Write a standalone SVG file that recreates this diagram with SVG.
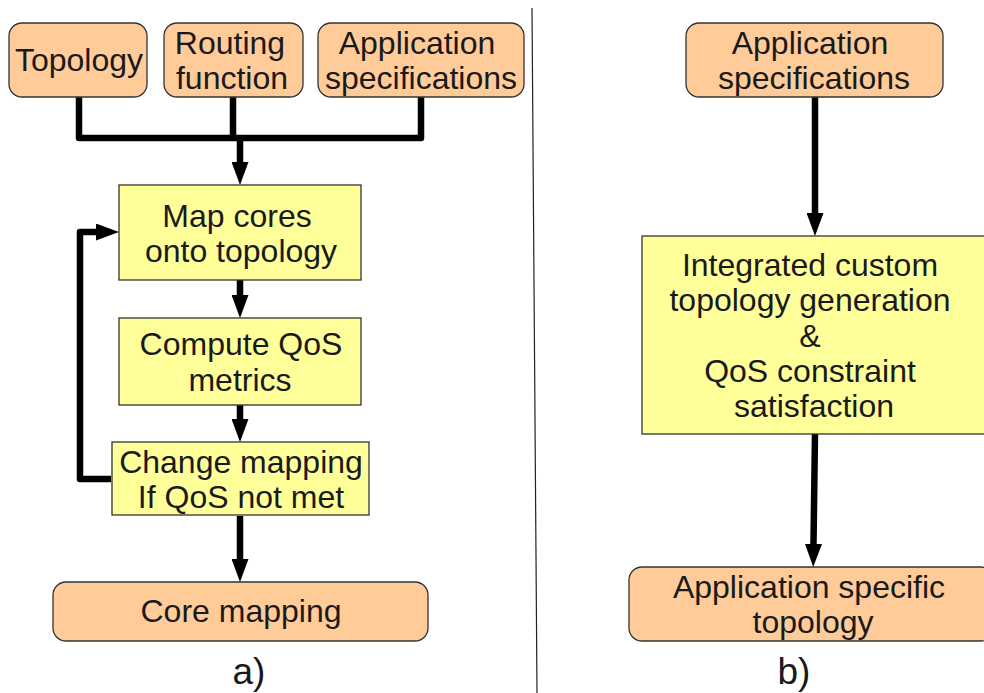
<svg xmlns="http://www.w3.org/2000/svg" width="984" height="693" viewBox="0 0 984 693">
<defs>
<style>
.io{fill:#ffcc99;stroke:#333333;stroke-width:1.3}
.pr{fill:#ffff99;stroke:#333333;stroke-width:1.3}
.t{font-family:"Liberation Sans",Arial,sans-serif;font-size:32px;fill:#1a1a1a;text-anchor:middle}
.lab{font-family:"Liberation Sans",Arial,sans-serif;font-size:37px;fill:#1a1a1a;text-anchor:middle}
.c{fill:none;stroke:#000000;stroke-width:6.5;stroke-linejoin:round}
.ca{fill:none;stroke:#000000;stroke-width:6.5;stroke-linejoin:round;marker-end:url(#ah)}
</style>
<marker id="ah" markerUnits="userSpaceOnUse" markerWidth="24" markerHeight="17" refX="0" refY="8.5" orient="auto">
<path d="M0,0 L23,8.5 L0,17 Z" fill="#000000"/>
</marker>
</defs>
<rect width="984" height="693" fill="#ffffff"/>
<line x1="532" y1="8" x2="537" y2="693" stroke="#222222" stroke-width="1.2"/>
<g id="connectors">
<path class="c" d="M79,97 V138 H421 V97"/>
<path class="c" d="M233,97 V138"/>
<path class="ca" d="M240,138 V162"/>
<path class="ca" d="M240,280 V295"/>
<path class="ca" d="M240,405 V419"/>
<path class="ca" d="M240,516 V559"/>
<path class="ca" d="M111,479 H80 V232 H96"/>
<path class="ca" d="M815,97 V213"/>
<path class="ca" d="M815,434 L813.5,544"/>
</g>
<g id="topology">
<rect class="io" x="9" y="23" width="138" height="74" rx="13"/>
<text class="t" x="79" y="71">Topology</text>
</g>
<g id="routing">
<rect class="io" x="164" y="23" width="139" height="74" rx="13"/>
<text class="t" x="230" y="54">Routing</text>
<text class="t" x="232" y="89">function</text>
</g>
<g id="appspec-a">
<rect class="io" x="318" y="23" width="206" height="74" rx="13"/>
<text class="t" x="417" y="54">Application</text>
<text class="t" x="421" y="89">specifications</text>
</g>
<g id="map-cores">
<rect class="pr" x="119" y="185" width="242" height="95"/>
<text class="t" x="237" y="227">Map cores</text>
<text class="t" x="241" y="262">onto topology</text>
</g>
<g id="compute-qos">
<rect class="pr" x="119" y="318" width="242" height="87"/>
<text class="t" x="241" y="355">Compute QoS</text>
<text class="t" x="240" y="391">metrics</text>
</g>
<g id="change-mapping">
<rect class="pr" x="112" y="442" width="257" height="73"/>
<text class="t" x="241" y="473">Change mapping</text>
<text class="t" x="241" y="508">If QoS not met</text>
</g>
<g id="core-mapping">
<rect class="io" x="53" y="582" width="375" height="59" rx="13"/>
<text class="t" x="241" y="622">Core mapping</text>
</g>
<text class="lab" x="249" y="684">a)</text>
<g id="appspec-b">
<rect class="io" x="686" y="23" width="257" height="74" rx="13"/>
<text class="t" x="810" y="54">Application</text>
<text class="t" x="814" y="89">specifications</text>
</g>
<g id="integrated">
<rect class="pr" x="642" y="236" width="350" height="198"/>
<text class="t" x="810" y="276">Integrated custom</text>
<text class="t" x="810" y="311">topology generation</text>
<text class="t" x="810" y="347">&amp;</text>
<text class="t" x="810" y="382">QoS constraint</text>
<text class="t" x="814" y="417">satisfaction</text>
</g>
<g id="app-specific-topology">
<rect class="io" x="629" y="567" width="365" height="74" rx="13"/>
<text class="t" x="809" y="598">Application specific</text>
<text class="t" x="813" y="633">topology</text>
</g>
<text class="lab" x="794" y="684">b)</text>
</svg>
